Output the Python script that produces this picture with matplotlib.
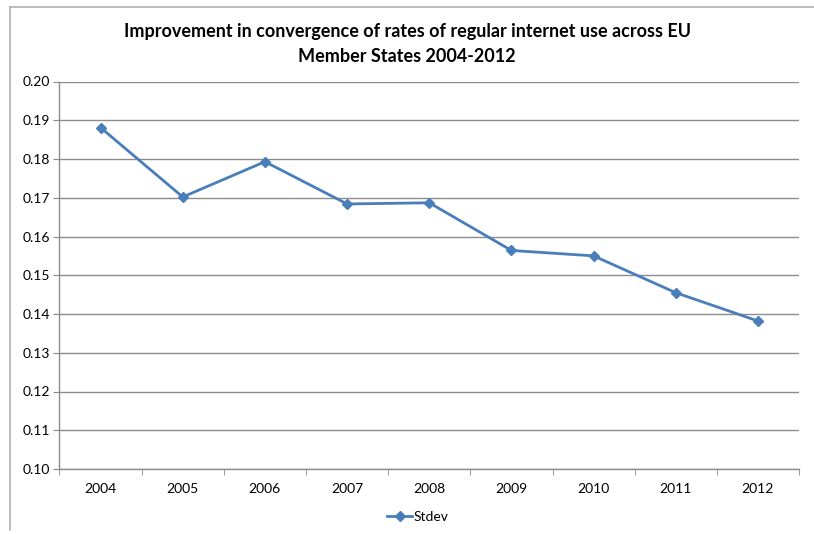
import matplotlib
matplotlib.use('Agg')
import matplotlib.pyplot as plt
from matplotlib.lines import Line2D

years = ['2004', '2005', '2006', '2007', '2008', '2009', '2010', '2011', '2012']
stdev = [0.1881, 0.1702, 0.1793, 0.1684, 0.1687, 0.1564, 0.1550, 0.1455, 0.1382]
yticks = [0.10, 0.11, 0.12, 0.13, 0.14, 0.15, 0.16, 0.17, 0.18, 0.19, 0.20]

W, H = 814, 534
fig = plt.figure(figsize=(W / 100, H / 100), dpi=100)
plt.rcParams['font.family'] = ['Lato', 'DejaVu Sans']

# chart area border (only top and left edges visible in the crop)
fig.lines.append(Line2D([10 / W, 1.0], [1 - 7 / H, 1 - 7 / H], transform=fig.transFigure,
                        color='#b0b0b0', linewidth=1.2))
fig.lines.append(Line2D([10 / W, 10 / W], [1 - 7 / H, 1 - 530 / H], transform=fig.transFigure,
                        color='#b0b0b0', linewidth=1.2))

ax = fig.add_axes([59.5 / W, 1 - 469 / H, (799 - 59.5) / W, (469 - 81.5) / H])
x = list(range(len(years)))
ax.plot(x, stdev, color='#4a7ebb', linewidth=2, marker='D', markersize=5,
        markerfacecolor='#4a7ebb', markeredgecolor='#4a7ebb', label='Stdev')

ax.set_xlim(-0.5, len(years) - 0.5)
ax.set_ylim(0.10, 0.20)
ax.set_yticks(yticks)
ax.set_yticklabels(['%.2f' % v for v in yticks], fontsize=10)
ax.set_xticks(x)
ax.set_xticklabels(years, fontsize=10)
ax.set_xticks([i - 0.5 for i in range(len(years) + 1)], minor=True)
ax.tick_params(axis='x', which='major', length=0, pad=10)
ax.tick_params(axis='x', which='minor', length=4, color='#888888')
ax.tick_params(axis='y', length=4, color='#888888', pad=3)

ax.grid(axis='y', color='#8c8c8c', linewidth=1)
ax.set_axisbelow(True)
for s in ['top', 'right']:
    ax.spines[s].set_visible(False)
for s in ['left', 'bottom']:
    ax.spines[s].set_color('#8c8c8c')
    ax.spines[s].set_linewidth(1)

fig.text(0.5, 1 - 31 / H, 'Improvement in convergence of rates of regular internet use across EU',
         ha='center', va='center', fontsize=13, fontweight='bold')
fig.text(0.5, 1 - 56 / H, 'Member States 2004-2012',
         ha='center', va='center', fontsize=13, fontweight='bold')

ax.legend(loc='center', bbox_to_anchor=(418 / W, 1 - 517 / H), bbox_transform=fig.transFigure,
          frameon=False, fontsize=10, handlelength=1.8, handletextpad=0.1)

fig.savefig('out.png', dpi=100)
